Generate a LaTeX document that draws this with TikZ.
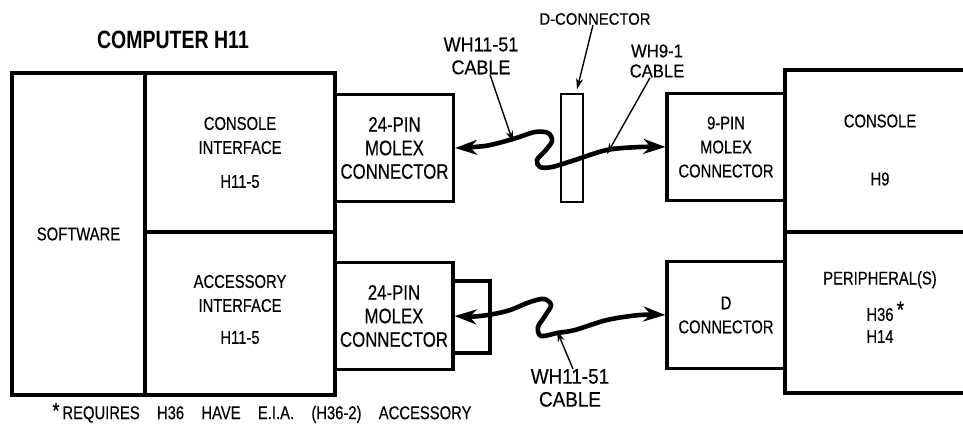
\documentclass[tikz,border=0pt]{standalone}
\usepackage{fontspec}
\setmainfont{Liberation Sans}[FakeStretch=0.8,FakeBold=0.4]
\newfontfamily\titlefont{Liberation Sans}[FakeStretch=0.78]
\newfontfamily\notefont{Liberation Sans}[FakeStretch=0.8,FakeBold=0.4,WordSpace=4.2]
\newfontfamily\cablefont{Liberation Sans}[FakeStretch=0.9,FakeBold=0.4]
\usetikzlibrary{arrows.meta}

\begin{document}
\begin{tikzpicture}
    [x=1pt,y=-1pt,
     box/.style={draw,line width=3.2pt,inner sep=0pt,align=center,
                 font=\fontsize{18.5}{24}\selectfont},
     molex/.style={box,minimum width=118pt,minimum height=107pt},
     cable/.style={line width=4.6pt,
                   {Stealth[length=22pt,width=15pt]}-{Stealth[length=22pt,width=15pt]}},
     pointer/.style={line width=1.4pt,-{Stealth[length=11pt,width=7pt]}},
     tag/.style={align=center,inner sep=0pt,font=\cablefont\fontsize{20}{23}\selectfont}]
  \useasboundingbox (0,0) rectangle (963,427);
  % computer H11
  \node[font=\titlefont\bfseries\fontsize{25}{26}\selectfont] (title) at (173,40) {COMPUTER H11};
  \node[box,minimum width=133pt,minimum height=322pt] (soft) at (78.5,234) {SOFTWARE};
  \node[box,minimum width=190pt,minimum height=159pt] (conif) at (240,152.5)
    {CONSOLE\\INTERFACE\\[10pt]H11-5};
  \node[box,minimum width=190pt,minimum height=163pt] (accif) at (240,313.5) {};
  \node[align=center,font=\fontsize{18.5}{24}\selectfont] (acctext) at (240,309.5)
    {ACCESSORY\\INTERFACE\\[8pt]H11-5};
  \node[molex,font=\fontsize{21}{23.5}\selectfont] (molexA) at (394.5,148) {24-PIN\\MOLEX\\CONNECTOR};
  \node[molex,font=\fontsize{21}{23.5}\selectfont] (molexB) at (394,316) {24-PIN\\MOLEX\\CONNECTOR};
  \draw[line width=3.2pt] ([yshift=35pt]molexB.east) -| (490,353) -- ([yshift=-37pt]molexB.east);
  % terminal side
  \node[draw,line width=1.5pt,minimum width=22pt,minimum height=108pt] (dconn) at (572,148) {};
  \node[molex] (ninepin) at (726,147) {9-PIN\\MOLEX\\CONNECTOR};
  \node[molex] (dconnB) at (726,315) {D\\CONNECTOR};
  \draw[line width=3.2pt] (966,70) -- (785,70) -- (785,393) -- (966,393);
  \draw[line width=3.2pt] (785,232) -- (966,232);
  \node[align=center,font=\fontsize{18.5}{24}\selectfont] (console) at (880,150) {CONSOLE\\[34pt]H9};
  \node[align=center,font=\fontsize{18.5}{22}\selectfont] (periph) at (880,307)
    {PERIPHERAL(S)\\[12pt]H36\rlap{\,\raisebox{3pt}{\fontsize{24}{24}\selectfont*}}\\H14};
  % cables
  \coordinate (a1) at (513,139);
  \coordinate (a6) at (607,150);
  \coordinate (b4) at (557,333);
  \draw[cable] plot[smooth,tension=0.55] coordinates {(molexA.east) (485,146) (a1) (535,132)
    (548,133) (552,141) (545,151) (537,160) (540,167) (552,167) (575,160) (a6) (640,147)
    (ninepin.west)};
  \draw[cable] plot[smooth,tension=0.55] coordinates {(molexB.east) (480,316) (507,311) (530,302)
    (544,299) (551,305) (545,316) (538,327) (541,336) (b4) (575,330) (607,320) (640,315)
    (dconnB.west)};
  % labels
  \node[tag,font=\cablefont\fontsize{16.5}{20}\selectfont] (dlabel) at (595,19) {D-CONNECTOR};
  \node[tag] (cabA) at (481,56) {WH11-51\\CABLE};
  \node[tag,font=\cablefont\fontsize{18.5}{20}\selectfont] (cabB) at (657,61) {WH9-1\\CABLE};
  \node[tag,font=\cablefont\fontsize{21}{23}\selectfont] (cabC) at (570,388) {WH11-51\\CABLE};
  \draw[pointer] ([xshift=-2pt]dlabel.south) -- ([xshift=5pt,yshift=4pt]dconn.north);
  \draw[pointer] ([xshift=9pt]cabA.south) -- ([yshift=-3pt]a1);
  \draw[pointer] ([xshift=-7pt]cabB.south) -- ([yshift=-4pt]a6);
  \draw[pointer] ([xshift=3pt]cabC.north) -- ([yshift=2pt]b4);
  % note
  \node[font=\notefont\fontsize{18.5}{20}\selectfont] (note) at (262,413)
    {\raisebox{1pt}{\fontsize{22}{22}\selectfont*}\,REQUIRES H36 HAVE E.I.A. (H36-2) ACCESSORY};
\end{tikzpicture}
\end{document}
